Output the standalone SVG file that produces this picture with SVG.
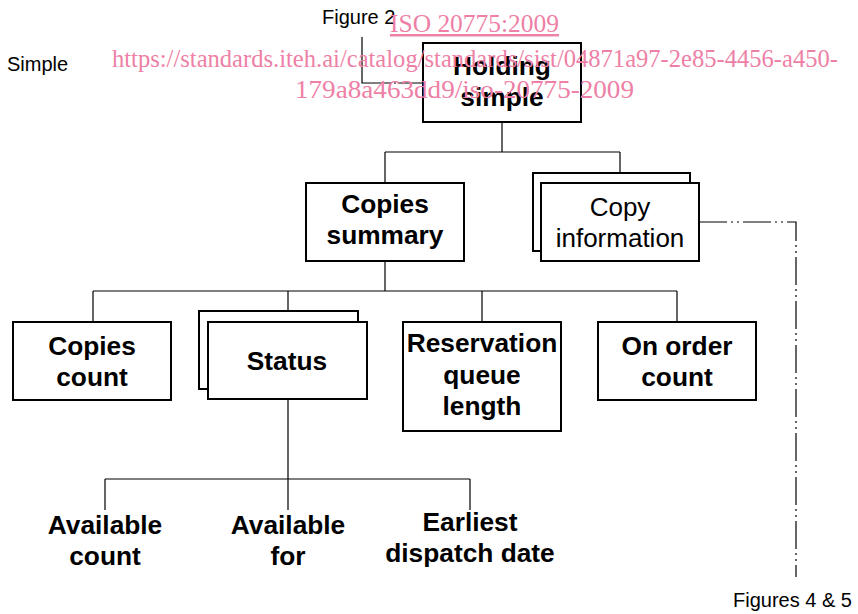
<svg xmlns="http://www.w3.org/2000/svg" width="858" height="614" viewBox="0 0 858 614">
<style>
.box{fill:#fff;stroke:#000;stroke-width:2}
.b{font-family:"Liberation Sans",Arial,sans-serif;font-weight:bold;font-size:26.3px;text-anchor:middle;fill:#000}
.r{font-family:"Liberation Sans",Arial,sans-serif;font-size:26px;text-anchor:middle;fill:#000}
.lbl{font-family:"Liberation Sans",Arial,sans-serif;font-size:20px;fill:#000}
.ln{fill:none;stroke:#000;stroke-width:1.2}
.dd{fill:none;stroke:#000;stroke-width:1.2;stroke-dasharray:28 4 2 4 2 4}
.wm{font-family:"Liberation Serif","Times New Roman",serif;font-size:24.5px;fill:#ee7fa6}
</style>
<rect width="858" height="614" fill="#fff"/>
<g id="connectors">
<path class="ln" d="M502 122V152M385 152H620M385 152V183M620 152V173"/>
<path class="ln" d="M385 261V291M93 291H677M93 291V322M288 291V312M482 291V322M677 291V322"/>
<path class="ln" d="M288 399V510M105 479H470M105 479V510M470 479V510"/>
<path class="ln" d="M362 37V83H388"/>
<path class="ln" d="M388 83H392M394 83H396M398 83H424"/>
<path class="dd" d="M699 222H796V577"/>
</g>
<g id="labels">
<text class="lbl" x="322" y="24">Figure 2</text>
<text class="lbl" x="7" y="71">Simple</text>
<text class="lbl" x="733" y="607">Figures 4 &amp; 5</text>
</g>
<g id="holding-simple">
<rect class="box" x="423" y="43" width="158" height="79"/>
<text class="b" x="502" y="75">Holding</text>
<text class="b" x="502" y="106">simple</text>
</g>
<g id="copies-summary">
<rect class="box" x="306" y="183" width="158" height="78"/>
<text class="b" x="385" y="213">Copies</text>
<text class="b" x="385" y="244">summary</text>
</g>
<g id="copy-information">
<rect class="box" x="533" y="173" width="157" height="78"/>
<rect class="box" x="541" y="183" width="158" height="78"/>
<text class="r" x="620" y="216">Copy</text>
<text class="r" x="620" y="247">information</text>
</g>
<g id="copies-count">
<rect class="box" x="13" y="322" width="158" height="78"/>
<text class="b" x="92" y="355">Copies</text>
<text class="b" x="92" y="386">count</text>
</g>
<g id="status">
<rect class="box" x="199" y="311" width="159" height="78"/>
<rect class="box" x="208" y="322" width="159" height="77"/>
<text class="b" x="287" y="370">Status</text>
</g>
<g id="reservation-queue-length">
<rect class="box" x="403" y="322" width="158" height="109"/>
<text class="b" x="482" y="352">Reservation</text>
<text class="b" x="482" y="384">queue</text>
<text class="b" x="482" y="415">length</text>
</g>
<g id="on-order-count">
<rect class="box" x="598" y="322" width="158" height="78"/>
<text class="b" x="677" y="355">On order</text>
<text class="b" x="677" y="386">count</text>
</g>
<g id="available-count">
<text class="b" x="105" y="534">Available</text>
<text class="b" x="105" y="565">count</text>
</g>
<g id="available-for">
<text class="b" x="288" y="534">Available</text>
<text class="b" x="288" y="565">for</text>
</g>
<g id="earliest-dispatch-date">
<text class="b" x="470" y="531">Earliest</text>
<text class="b" x="470" y="562">dispatch date</text>
</g>
<g id="watermark">
<text class="wm" x="390" y="32" textLength="169" lengthAdjust="spacingAndGlyphs" text-decoration="underline">ISO 20775:2009</text>
<text class="wm" x="112" y="67" textLength="726" lengthAdjust="spacingAndGlyphs">https://standards.iteh.ai/catalog/standards/sist/04871a97-2e85-4456-a450-</text>
<text class="wm" x="295" y="98" textLength="339" lengthAdjust="spacingAndGlyphs">179a8a463dd9/iso-20775-2009</text>
</g>
</svg>
